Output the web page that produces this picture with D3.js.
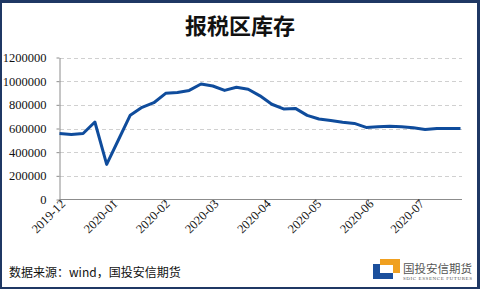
<!DOCTYPE html>
<html>
<head>
<meta charset="utf-8">
<script src="https://cdn.jsdelivr.net/npm/d3@7"></script>
<style>
  body { margin: 0; background: #fff; }
  svg { display: block; }
</style>
</head>
<body>
<svg id="chart" width="480" height="289"></svg>
<script>
// weekly dates and inventory values
const dates = ["2019-12-01","2019-12-08","2019-12-15","2019-12-22","2019-12-29",
  "2020-01-05","2020-01-12","2020-01-19","2020-01-26",
  "2020-02-02","2020-02-09","2020-02-16","2020-02-23",
  "2020-03-01","2020-03-08","2020-03-15","2020-03-22","2020-03-29",
  "2020-04-05","2020-04-12","2020-04-19","2020-04-26",
  "2020-05-03","2020-05-10","2020-05-17","2020-05-24","2020-05-31",
  "2020-06-07","2020-06-14","2020-06-21","2020-06-28",
  "2020-07-05","2020-07-12","2020-07-19","2020-07-26"];
const stock = [558000,550000,558000,655000,297000,
  505000,713000,779000,818000,
  897000,905000,922000,976000,
  959000,922000,948000,932000,876000,
  805000,765000,770000,711000,
  680000,668000,652000,643000,609000,
  614000,618000,614000,606000,
  592000,601000,601000,601000];
const yTicks = [0,200000,400000,600000,800000,1000000,1200000];
const monthTicks = ["2019-12","2020-01","2020-02","2020-03","2020-04","2020-05","2020-06","2020-07"];

const title = "报税区库存";
const source = "数据来源：wind，国投安信期货";

const svg = d3.select("#chart");
const parse = d3.timeParse("%Y-%m-%d");
const parseM = d3.timeParse("%Y-%m");
const fmtM = d3.timeFormat("%Y-%m");

const data = dates.map((d, i) => ({ date: parse(d), value: stock[i] }));

const x = d3.scaleTime()
  .domain([parse(dates[0]), parse(dates[dates.length - 1])])
  .range([59.5, 460.5]);
const y = d3.scaleLinear().domain([0, 1200000]).range([199.5, 57.5]);

// frame
svg.append("rect").attr("x", 0).attr("y", 0).attr("width", 480).attr("height", 289).attr("fill", "#1f3864");
svg.append("rect").attr("x", 2).attr("y", 3).attr("width", 475).attr("height", 284).attr("fill", "#fff");

svg.append("text")
  .attr("x", 240).attr("y", 34)
  .attr("text-anchor", "middle")
  .style("font-family", "'Noto Sans CJK SC'")
  .style("font-weight", "700")
  .style("font-size", "22px")
  .attr("fill", "#111")
  .text(title);

// gridlines
svg.append("g").selectAll("line")
  .data(yTicks.slice(1)).enter().append("line")
  .attr("x1", 60).attr("x2", 462)
  .attr("y1", d => Math.round(y(d)) + 0.5).attr("y2", d => Math.round(y(d)) + 0.5)
  .attr("stroke", "#d0d0d0").attr("stroke-dasharray", "4,3");

// y axis
const yAxis = svg.append("g").attr("transform", "translate(59.5,0)")
  .call(d3.axisLeft(y).tickValues(yTicks).tickSize(3).tickSizeOuter(0).tickPadding(10).tickFormat(d3.format("d")));
yAxis.select(".domain").attr("stroke", "#8c8c8c");
yAxis.selectAll(".tick line").attr("stroke", "#8c8c8c");
yAxis.selectAll("text")
  .style("font-family", "'Liberation Serif'").style("font-size", "12.5px").attr("fill", "#111");

// x axis
const xAxis = svg.append("g").attr("transform", "translate(0,199.5)")
  .call(d3.axisBottom(x).tickValues(monthTicks.map(parseM)).tickFormat(fmtM).tickSize(3).tickSizeOuter(0));
xAxis.select(".domain").attr("d", "M59.5,0H462").attr("stroke", "#8c8c8c");
xAxis.selectAll(".tick line").attr("stroke", "#8c8c8c");
xAxis.selectAll("text")
  .style("font-family", "'Liberation Serif'").style("font-size", "12.5px").attr("fill", "#111")
  .attr("text-anchor", "end")
  .attr("transform", "translate(3,2) rotate(-45)")
  .attr("x", 0).attr("y", 0).attr("dy", "0.35em");

// line
svg.append("path")
  .datum(data)
  .attr("fill", "none")
  .attr("stroke", "#0f4c9c")
  .attr("stroke-width", 3)
  .attr("stroke-linejoin", "round")
  .attr("d", d3.line().x(d => x(d.date)).y(d => y(d.value)));

// footer
svg.append("text")
  .attr("x", 9).attr("y", 277)
  .style("font-family", "'Noto Sans CJK SC'").style("font-size", "12px")
  .attr("fill", "#111")
  .text(source);

// logo
const logo = svg.append("g");
logo.append("path").attr("d", "M380,259H400V273H393V265H380Z").attr("fill", "#f0a020");
logo.append("path").attr("d", "M373,264H380V273H393V279H373Z").attr("fill", "#1b4f9c");
logo.append("text")
  .attr("x", 403).attr("y", 273)
  .style("font-family", "'Noto Sans CJK SC'").style("font-size", "11.5px")
  .attr("fill", "#555")
  .attr("textLength", 69)
  .text("国投安信期货");
logo.append("text")
  .attr("x", 403).attr("y", 279.5)
  .style("font-family", "'Liberation Serif'").style("font-size", "5px")
  .attr("fill", "#555")
  .attr("textLength", 69)
  .text("SDIC ESSENCE FUTURES");
</script>
</body>
</html>
